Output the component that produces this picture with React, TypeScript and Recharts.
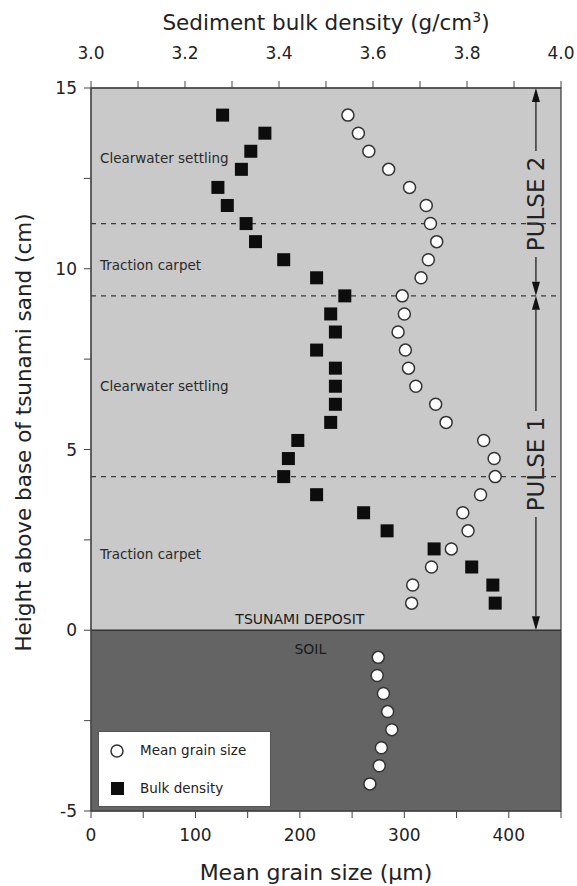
import React from 'react'
import { ScatterChart, Scatter, XAxis, YAxis, ReferenceArea, ReferenceLine, ReferenceDot, Legend } from 'recharts'

// sample heights above the base of the tsunami sand (cm)
const heights = [
  14.25, 13.75, 13.25, 12.75, 12.25, 11.75, 11.25, 10.75, 10.25, 9.75,
  9.25, 8.75, 8.25, 7.75, 7.25, 6.75, 6.25, 5.75, 5.25, 4.75,
  4.25, 3.75, 3.25, 2.75, 2.25, 1.75, 1.25, 0.75,
]
// mean grain size (um), bottom axis
const grainSize = [
  246, 256, 266, 285, 305, 321, 325, 331, 323, 316,
  298, 300, 294, 301, 304, 311, 330, 340, 376, 386,
  387, 373, 356, 361, 345, 326, 308, 307,
]
// bulk density (g/cm3), top axis
const bulkDensity = [
  3.28, 3.37, 3.34, 3.32, 3.27, 3.29, 3.33, 3.35, 3.41, 3.48,
  3.54, 3.51, 3.52, 3.48, 3.52, 3.52, 3.52, 3.51, 3.44, 3.42,
  3.41, 3.48, 3.58, 3.63, 3.73, 3.81, 3.855, 3.86,
]
const soilHeights = [-0.75, -1.25, -1.75, -2.25, -2.75, -3.25, -3.75, -4.25]
const soilGrainSize = [275, 274, 280, 284, 288, 278, 276, 267]

const unitBoundaries = [11.25, 9.25, 4.25]
const zoneLabels = [
  { text: 'Clearwater settling', height: 13.05 },
  { text: 'Traction carpet', height: 10.1 },
  { text: 'Clearwater settling', height: 6.75 },
  { text: 'Traction carpet', height: 2.1 },
]
const pulses = [
  { name: 'PULSE 2', from: 9.25, to: 15, shift: 12 },
  { name: 'PULSE 1', from: 0, to: 9.25, shift: 1 },
]

const grainTicks = [0, 50, 100, 150, 200, 250, 300, 350, 400, 450]
const densityTicks = [3.0, 3.1, 3.2, 3.3, 3.4, 3.5, 3.6, 3.7, 3.8, 3.9, 4.0]
const heightTicks = [-5, -2.5, 0, 2.5, 5, 7.5, 10, 12.5, 15]

const grainPoints = heights.map((h, i) => ({ x: grainSize[i], y: h }))
  .concat(soilHeights.map((h, i) => ({ x: soilGrainSize[i], y: h })))
const densityPoints = heights.map((h, i) => ({ x: bulkDensity[i], y: h }))

const ink = '#222'

function OpenCircle(props: any) {
  const { cx, cy } = props
  return <circle cx={cx} cy={cy} r={6} fill="#fff" stroke="#333" strokeWidth={1.5} />
}

function FilledSquare(props: any) {
  const { cx, cy } = props
  return <rect x={cx - 6.5} y={cy - 6.5} width={13} height={13} fill="#0d0d0d" />
}

function pulseShape(name: string, shift: number) {
  return (props: any) => {
    const { x, y, width, height } = props
    const cx = x + width / 2
    const top = y
    const bottom = y + height
    const mid = (top + bottom) / 2 + shift
    const gap = 53
    const head = 14
    const half = 4
    return (
      <g>
        <line x1={cx} y1={top + head} x2={cx} y2={mid - gap} stroke={ink} strokeWidth={1.3} />
        <line x1={cx} y1={mid + gap} x2={cx} y2={bottom - head} stroke={ink} strokeWidth={1.3} />
        <polygon points={`${cx},${top} ${cx - half},${top + head} ${cx + half},${top + head}`} fill="#111" />
        <polygon points={`${cx},${bottom} ${cx - half},${bottom - head} ${cx + half},${bottom - head}`} fill="#111" />
        <text
          transform={`translate(${cx},${mid}) rotate(-90)`}
          textAnchor="middle"
          dominantBaseline="central"
          fontSize={23}
          fill={ink}
        >
          {name}
        </text>
      </g>
    )
  }
}

function LegendBox() {
  return (
    <div style={{ width: 171, height: 74, background: '#fff', border: '1px solid #555', position: 'relative', fontSize: 13.5, color: ink }}>
      <svg width={30} height={74} style={{ position: 'absolute', left: 0, top: 0 }}>
        <circle cx={18} cy={19} r={6} fill="#fff" stroke="#333" strokeWidth={1.5} />
        <rect x={12} y={50} width={13} height={13} fill="#0d0d0d" />
      </svg>
      <div style={{ position: 'absolute', left: 41, top: 10 }}>Mean grain size</div>
      <div style={{ position: 'absolute', left: 41, top: 48 }}>Bulk density</div>
    </div>
  )
}

export default function App() {
  return (
    <div style={{ position: 'absolute', left: 0, top: 0, fontFamily: '"DejaVu Sans", Verdana, sans-serif' }}>
      <ScatterChart width={577} height={886} margin={{ top: 0, right: 16, bottom: 0, left: 0 }}>
        <XAxis
          xAxisId="grain"
          type="number"
          dataKey="x"
          orientation="bottom"
          domain={[0, 450]}
          ticks={grainTicks}
          interval={0}
          height={75}
          tickSize={7}
          tickMargin={11}
          stroke="#444"
          tick={{ fontSize: 17, fill: ink }}
          tickFormatter={(v: number) => (v % 100 === 0 ? String(v) : '')}
          label={(p: any) => (
            <text x={p.viewBox.x + p.viewBox.width / 2 - 10} y={p.viewBox.y + 69} textAnchor="middle" fontSize={22} fill={ink}>
              Mean grain size (µm)
            </text>
          )}
        />
        <XAxis
          xAxisId="density"
          type="number"
          dataKey="x"
          orientation="top"
          domain={[3, 4]}
          ticks={densityTicks}
          interval={0}
          height={88}
          tickSize={7}
          tickMargin={22}
          stroke="#444"
          tick={{ fontSize: 17, fill: ink }}
          tickFormatter={(v: number) => (Math.round(v * 10) % 2 === 0 ? v.toFixed(1) : '')}
          label={(p: any) => (
            <text x={p.viewBox.x + p.viewBox.width / 2} y={30} textAnchor="middle" fontSize={21.5} fill={ink}>
              Sediment bulk density (g/cm<tspan dy={-8} fontSize={14}>3</tspan><tspan dy={8}>)</tspan>
            </text>
          )}
        />
        <YAxis
          yAxisId="h"
          type="number"
          dataKey="y"
          domain={[-5, 15]}
          ticks={heightTicks}
          interval={0}
          width={91}
          tickSize={7}
          tickMargin={7}
          stroke="#444"
          tick={{ fontSize: 17, fill: ink }}
          tickFormatter={(v: number) => (v % 5 === 0 ? String(v) : '')}
          label={(p: any) => {
            const cx = p.viewBox.x + 31
            const cy = p.viewBox.y + p.viewBox.height / 2 - 17
            return (
              <text transform={`translate(${cx},${cy}) rotate(-90)`} textAnchor="middle" fontSize={21.5} fill={ink}>
                Height above base of tsunami sand (cm)
              </text>
            )
          }}
        />

        <ReferenceArea xAxisId="grain" yAxisId="h" x1={0} x2={450} y1={0} y2={15} fill="#c9c9c9" fillOpacity={1} stroke="none" />
        <ReferenceArea xAxisId="grain" yAxisId="h" x1={0} x2={450} y1={-5} y2={0} fill="#646464" fillOpacity={1} stroke="none" />
        <ReferenceArea xAxisId="grain" yAxisId="h" x1={0} x2={450} y1={-5} y2={15} fill="none" stroke="#444" strokeWidth={1.3} />
        <ReferenceLine xAxisId="grain" yAxisId="h" y={0} stroke="#333" strokeWidth={1.5} />
        {unitBoundaries.map((b) => (
          <ReferenceLine key={b} xAxisId="grain" yAxisId="h" y={b} stroke="#3a3a3a" strokeWidth={1.2} strokeDasharray="5 5" />
        ))}

        {zoneLabels.map((z, i) => (
          <ReferenceDot
            key={i}
            xAxisId="grain"
            yAxisId="h"
            x={0}
            y={z.height}
            r={0}
            fill="none"
            stroke="none"
            label={{ value: z.text, position: 'right', offset: 9, fontSize: 13.5, fill: '#2a2a2a' }}
          />
        ))}
        <ReferenceDot
          xAxisId="grain"
          yAxisId="h"
          x={200}
          y={0.31}
          r={0}
          fill="none"
          stroke="none"
          label={{ value: 'TSUNAMI DEPOSIT', position: 'center', fontSize: 14, fill: '#1a1a1a' }}
        />
        <ReferenceDot
          xAxisId="grain"
          yAxisId="h"
          x={210}
          y={-0.53}
          r={0}
          fill="none"
          stroke="none"
          label={{ value: 'SOIL', position: 'center', fontSize: 14, fill: '#1a1a1a' }}
        />

        {pulses.map((p) => (
          <ReferenceArea
            key={p.name}
            xAxisId="grain"
            yAxisId="h"
            x1={420}
            x2={432}
            y1={p.from}
            y2={p.to}
            shape={pulseShape(p.name, p.shift)}
          />
        ))}

        <Scatter
          name="Mean grain size"
          xAxisId="grain"
          yAxisId="h"
          data={grainPoints}
          shape={OpenCircle}
          isAnimationActive={false}
        />
        <Scatter
          name="Bulk density"
          xAxisId="density"
          yAxisId="h"
          data={densityPoints}
          shape={FilledSquare}
          isAnimationActive={false}
        />

        <Legend
          layout="vertical"
          align="center"
          verticalAlign="middle"
          content={() => <LegendBox />}
          wrapperStyle={{ left: 98, top: 731, width: 173, height: 76 }}
        />
      </ScatterChart>
    </div>
  )
}
